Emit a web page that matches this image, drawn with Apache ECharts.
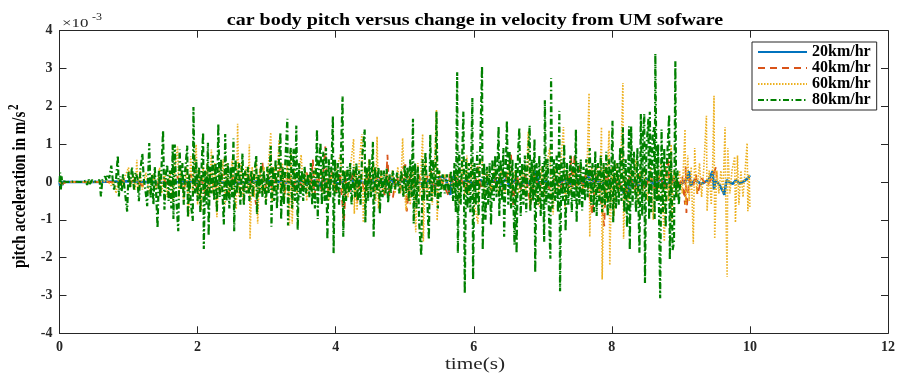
<!DOCTYPE html>
<html><head><meta charset="utf-8">
<script src="https://cdn.jsdelivr.net/npm/echarts@6/dist/echarts.min.js"></script>
<style>html,body{margin:0;padding:0;background:#fff}#c{width:898px;height:373px}</style>
</head><body><div id="c"></div>
<script>
// values are in units of 1e-3 m/s^2 ; time in s
const seriesNames = ['20km/hr','40km/hr','60km/hr','80km/hr'];
const xTicks = {min:0, max:12, step:2};
const yTicks = {min:-4, max:4, step:1};

const s20 = [[0,0],[0.01,-0.1],[0.02,0.03],[0.04,-0.08],[0.06,0],[0.5,0],[1.0,0.02],[1.5,-0.02],[2.0,0.02],[2.5,-0.03],[3.0,0.03],[3.4,-0.03],[3.5,0.05],[3.6,-0.05],[3.7,0.05],[3.78,-0.1],[3.82,0.1],[3.86,-0.05],[3.95,0.03],[4.05,-0.05],[4.15,0.05],[4.24,0.12],[4.27,-0.15],[4.32,0.05],[4.45,-0.05],[4.6,0.05],[4.75,-0.05],[4.8,0.1],[4.85,-0.05],[5.0,0.03],[5.15,0.05],[5.25,-0.05],[5.35,0.05],[5.40,-0.08],[5.45,-0.1],[5.50,0.1],[5.55,0.15],[5.60,0.05],[5.64,-0.25],[5.66,-0.34],[5.68,0.1],[5.73,0.15],[5.78,-0.05],[5.9,0.05],[6.0,-0.05],[6.1,0.05],[6.2,-0.05],[6.3,0.05],[6.4,-0.05],[6.48,0.1],[6.52,-0.15],[6.58,0.05],[6.66,-0.05],[6.70,-0.1],[6.75,0.15],[6.78,-0.1],[6.82,0.05],[6.88,0.2],[6.91,0.28],[6.94,-0.1],[7.0,0.03],[7.1,-0.05],[7.2,-0.05],[7.3,0.05],[7.4,-0.05],[7.5,0.05],[7.6,-0.05],[7.63,0.15],[7.66,0.3],[7.69,-0.1],[7.75,0.05],[7.9,-0.05],[8.0,0.05],[8.1,-0.05],[8.19,-0.34],[8.22,0.05],[8.24,-0.28],[8.28,0.05],[8.38,-0.1],[8.42,0.1],[8.46,-0.1],[8.52,0.08],[8.6,-0.05],[8.7,0.05],[8.8,-0.05],[8.9,0.05],[9.0,-0.05],[9.08,0.05],[9.12,0.28],[9.14,-0.1],[9.2,0.05],[9.3,-0.05],[9.40,0.05],[9.46,0.28],[9.48,-0.2],[9.50,0.05],[9.55,-0.05],[9.61,-0.25],[9.63,-0.34],[9.66,0.05],[9.75,-0.05],[9.80,0.05],[9.85,-0.05],[9.92,0.03],[9.97,0.1],[10.0,0.18]];

const s40 = [[0,0],[0.02,0.05],[0.04,-0.05],[0.1,0],[0.8,0],[0.9,0.05],[1.0,-0.05],[1.1,0.08],[1.2,-0.1],[1.3,0.08],[1.4,-0.1],[1.5,0.1],[1.6,-0.15],[1.7,0.15],[1.8,-0.15],[1.9,0.2],[2.0,-0.2],[2.05,0.15],[2.12,-0.4],[2.18,0.2],[2.25,-0.2],[2.32,0.15],[2.40,0.2],[2.45,-0.3],[2.52,0.2],[2.6,-0.15],[2.68,-0.2],[2.74,0.2],[2.80,-0.2],[2.85,-0.6],[2.90,0.2],[2.94,0.52],[2.97,-0.3],[3.02,0.2],[3.08,-0.2],[3.15,0.2],[3.23,0.45],[3.26,-0.3],[3.32,0.2],[3.38,-0.2],[3.45,0.2],[3.52,-0.2],[3.58,0.25],[3.64,-0.2],[3.67,0.59],[3.69,-0.38],[3.74,0.2],[3.80,-0.25],[3.85,0.94],[3.88,-0.3],[3.94,0.3],[4.00,-0.3],[4.06,0.25],[4.12,-1.07],[4.15,0.1],[4.20,-0.3],[4.25,0.3],[4.29,0.35],[4.31,-0.55],[4.36,0.2],[4.42,-0.3],[4.48,0.25],[4.55,-0.2],[4.62,0.25],[4.68,-0.2],[4.72,-0.38],[4.75,0.72],[4.78,-0.42],[4.83,-0.4],[4.88,0.2],[4.94,-0.2],[4.98,0.4],[5.01,0.46],[5.03,-0.78],[5.08,0.2],[5.14,-0.2],[5.2,0.2],[5.27,-0.2],[5.33,0.15],[5.38,0.3],[5.43,-0.2],[5.50,0.15],[5.58,-0.15],[5.64,-0.38],[5.65,0.25],[5.72,-0.1],[5.80,0.15],[5.88,-0.2],[5.95,0.2],[6.02,-0.2],[6.06,0.45],[6.10,-0.2],[6.18,0.2],[6.26,-0.2],[6.34,0.2],[6.42,-0.2],[6.48,0.15],[6.54,0.72],[6.57,-0.6],[6.62,0.2],[6.68,-0.2],[6.75,0.2],[6.82,-0.6],[6.88,0.2],[6.95,-0.2],[7.02,0.2],[7.10,-0.2],[7.18,0.15],[7.25,-0.2],[7.32,0.2],[7.38,-0.15],[7.41,0.68],[7.43,-0.2],[7.46,0.72],[7.49,-0.2],[7.53,0.5],[7.57,-0.2],[7.62,0.2],[7.66,-0.2],[7.72,-0.86],[7.76,0.2],[7.82,-0.2],[7.89,-1.17],[7.92,0.4],[7.97,-0.2],[8.04,0.2],[8.10,-0.2],[8.16,0.15],[8.20,-0.38],[8.26,0.2],[8.33,-0.2],[8.40,0.2],[8.48,-0.2],[8.56,0.2],[8.62,-0.2],[8.70,0.2],[8.76,-0.2],[8.79,0.3],[8.81,0.68],[8.84,-0.2],[8.90,0.15],[8.96,-0.2],[9.02,0.15],[9.06,-0.6],[9.07,0.4],[9.08,-0.82],[9.12,0.1],[9.18,-0.1],[9.22,0.2],[9.24,-0.34],[9.30,0.1],[9.38,-0.1],[9.45,0.1],[9.51,0.4],[9.52,0]];

const s60 = [[0,0],[0.02,0.05],[0.04,-0.05],[0.1,0],[0.5,0],[0.7,0.02],[0.75,-0.1],[0.78,0.05],[0.82,-0.3],[0.85,0.05],[0.9,-0.1],[0.95,0.15],[1.0,0.38],[1.03,-0.15],[1.07,0.2],[1.10,-0.2],[1.12,0.59],[1.14,-0.25],[1.17,0.3],[1.20,-0.2],[1.25,0.25],[1.30,-0.3],[1.35,0.2],[1.40,-0.2],[1.45,0.38],[1.48,-0.3],[1.52,0.3],[1.56,-0.4],[1.60,0.3],[1.64,-0.5],[1.68,0.5],[1.71,0.94],[1.73,-0.4],[1.76,0.3],[1.80,-0.5],[1.84,0.4],[1.87,-0.91],[1.90,0.68],[1.93,-0.3],[1.96,0.5],[1.98,0.99],[2.00,-0.6],[2.03,0.3],[2.05,-0.75],[2.08,0.4],[2.11,-0.3],[2.14,0.5],[2.17,-0.4],[2.20,0.86],[2.22,-0.3],[2.25,0.5],[2.28,-0.93],[2.31,0.4],[2.34,-0.3],[2.37,0.6],[2.40,-0.6],[2.43,0.5],[2.46,-0.4],[2.50,0.6],[2.53,-0.3],[2.56,-0.72],[2.58,1.54],[2.60,-0.4],[2.63,0.5],[2.66,-0.5],[2.70,0.4],[2.73,-0.3],[2.75,0.99],[2.76,-1.51],[2.79,0.4],[2.82,-0.4],[2.85,0.6],[2.87,-1.1],[2.90,0.35],[2.93,-0.3],[2.96,0.4],[2.99,-0.5],[3.02,0.3],[3.06,1.31],[3.08,-0.5],[3.11,0.4],[3.14,-0.3],[3.18,1.12],[3.20,-0.3],[3.23,0.5],[3.26,-0.4],[3.30,0.5],[3.33,-1.15],[3.35,0.86],[3.37,-1.1],[3.40,0.3],[3.44,-0.3],[3.48,0.4],[3.50,0.72],[3.53,-0.2],[3.56,0.3],[3.58,-0.5],[3.62,0.2],[3.66,-0.3],[3.70,0.4],[3.74,-0.2],[3.78,0.3],[3.82,-0.3],[3.86,0.2],[3.90,-0.5],[3.94,0.3],[3.98,-0.3],[4.02,0.4],[4.07,0.73],[4.10,-0.3],[4.14,0.3],[4.18,-0.4],[4.22,0.5],[4.26,1.14],[4.27,-0.84],[4.29,0.4],[4.31,-0.75],[4.34,0.5],[4.38,1.27],[4.40,-1.07],[4.43,0.4],[4.46,-0.4],[4.48,0.6],[4.51,-0.3],[4.55,0.5],[4.58,-0.5],[4.60,1.2],[4.62,-0.7],[4.66,0.3],[4.70,-0.3],[4.74,0.3],[4.78,-0.2],[4.82,0.3],[4.86,-0.3],[4.90,0.4],[4.94,-0.3],[4.97,1.16],[5.00,-0.3],[5.02,-0.75],[5.05,0.3],[5.08,-0.6],[5.12,0.4],[5.16,-1.33],[5.19,0.5],[5.22,-0.4],[5.26,1.27],[5.27,-1.57],[5.30,0.5],[5.33,-0.5],[5.37,0.4],[5.40,-0.6],[5.43,0.3],[5.46,1.91],[5.47,-1.02],[5.50,0.3],[5.54,-0.2],[5.58,0.2],[5.62,-0.2],[5.66,0.2],[5.70,-0.3],[5.75,0.3],[5.80,-0.6],[5.83,0.6],[5.87,-0.4],[5.90,0.7],[5.93,-0.3],[5.97,0.5],[6.00,-0.5],[6.06,-1.1],[6.08,0.5],[6.12,0.6],[6.15,-0.4],[6.20,0.3],[6.25,-0.3],[6.30,0.4],[6.35,-0.3],[6.40,0.3],[6.45,-0.3],[6.50,0.3],[6.55,-0.2],[6.60,0.3],[6.65,-0.3],[6.70,0.4],[6.75,-0.4],[6.79,1.33],[6.81,-0.7],[6.85,0.4],[6.90,-0.3],[6.95,-0.64],[6.98,0.4],[7.02,-0.4],[7.06,0.5],[7.10,0.9],[7.12,-0.3],[7.15,-0.86],[7.18,0.4],[7.22,-0.3],[7.26,0.5],[7.30,1.45],[7.32,-0.7],[7.36,0.3],[7.40,-0.3],[7.45,0.3],[7.50,-0.2],[7.55,0.2],[7.60,-0.3],[7.64,0.3],[7.67,2.35],[7.68,-1.45],[7.71,0.4],[7.75,-0.5],[7.79,0.4],[7.82,-0.5],[7.85,1.45],[7.86,-2.58],[7.89,0.4],[7.92,-0.5],[7.96,1.36],[7.97,-2.2],[8.00,0.4],[8.03,-0.9],[8.06,0.5],[8.10,-0.4],[8.13,0.5],[8.16,2.62],[8.17,-1.5],[8.20,0.3],[8.24,-0.6],[8.28,0.4],[8.32,-0.3],[8.35,0.6],[8.37,-0.6],[8.41,0.3],[8.45,-0.3],[8.48,0.3],[8.52,-0.5],[8.56,0.4],[8.60,-1.0],[8.63,0.4],[8.67,-0.5],[8.71,0.5],[8.76,-1.57],[8.79,0.4],[8.82,-0.5],[8.86,0.99],[8.87,-1.07],[8.90,0.3],[8.94,-0.4],[8.98,0.3],[9.02,-0.3],[9.06,1.39],[9.07,-0.6],[9.10,0.7],[9.12,-0.5],[9.15,0.4],[9.18,-1.63],[9.20,0.9],[9.23,-0.3],[9.27,0.5],[9.30,-0.4],[9.33,0.3],[9.37,1.75],[9.38,-0.77],[9.41,0.3],[9.44,-0.6],[9.46,0.4],[9.48,2.28],[9.49,-1.5],[9.52,0.3],[9.55,-0.3],[9.58,0.3],[9.61,-0.3],[9.64,1.45],[9.65,-0.5],[9.67,-2.51],[9.68,0.9],[9.71,-0.3],[9.74,0.3],[9.78,0.67],[9.79,-1.07],[9.82,0.7],[9.84,-0.6],[9.87,0.3],[9.90,-0.4],[9.93,0.3],[9.96,1.03],[9.97,-0.77],[9.99,0.2],[10.0,-0.7]];

const s80 = [[0,0],[0.01,0.25],[0.02,-0.2],[0.03,0.15],[0.04,-0.05],[0.06,0.02],[0.1,0],[0.2,0.01],[0.3,0],[0.38,0.03],[0.40,-0.08],[0.42,0.08],[0.44,-0.05],[0.47,0.05],[0.5,0],[0.55,0.03],[0.58,0.05],[0.60,-0.38],[0.62,0.05],[0.66,0.15],[0.68,0.05],[0.70,0.2],[0.72,0.1],[0.75,0.43],[0.77,0.08],[0.79,-0.2],[0.82,0.1],[0.845,0.7],[0.86,-0.38],[0.88,0.15],[0.90,-0.25],[0.92,0.2],[0.95,-0.3],[0.98,-0.78],[1.00,0.3],[1.02,-0.15],[1.05,0.4],[1.08,-0.2],[1.10,0.25],[1.13,0.1],[1.15,-0.51],[1.17,0.3],[1.20,0.75],[1.22,0.1],[1.25,-0.3],[1.27,-0.64],[1.30,1.03],[1.32,-0.42],[1.34,0.2],[1.36,-0.6],[1.38,0.4],[1.40,-0.3],[1.42,-1.22],[1.44,0.3],[1.46,-0.4],[1.48,0.5],[1.50,1.36],[1.52,-0.73],[1.54,0.2],[1.56,0.46],[1.58,-0.5],[1.60,0.3],[1.62,-0.7],[1.64,0.99],[1.65,-0.98],[1.67,0.99],[1.69,-0.4],[1.72,-1.3],[1.74,0.86],[1.76,-0.2],[1.78,0.5],[1.80,-0.6],[1.82,0.3],[1.85,0.96],[1.86,-0.94],[1.88,0.2],[1.90,-0.5],[1.93,-1.03],[1.94,1.98],[1.96,-0.3],[1.98,0.6],[2.00,-0.5],[2.02,0.4],[2.04,-0.8],[2.06,0.5],[2.08,1.31],[2.09,-1.77],[2.11,0.3],[2.13,-0.6],[2.15,1.04],[2.16,-1.42],[2.18,0.4],[2.20,-0.3],[2.22,0.7],[2.24,-0.5],[2.26,0.5],[2.28,-0.8],[2.30,1.54],[2.32,-0.4],[2.34,0.6],[2.36,-0.3],[2.38,-1.12],[2.40,1.27],[2.42,-0.5],[2.44,0.5],[2.46,-0.7],[2.48,0.4],[2.50,-0.4],[2.52,1.15],[2.53,-1.3],[2.55,0.6],[2.57,-0.3],[2.60,0.5],[2.62,-0.6],[2.65,0.75],[2.67,-0.62],[2.69,0.3],[2.71,-0.3],[2.73,0.4],[2.75,-0.5],[2.78,0.3],[2.80,-0.4],[2.82,0.2],[2.85,0.7],[2.86,-0.85],[2.88,0.2],[2.90,-0.3],[2.92,0.5],[2.94,-0.4],[2.96,0.3],[2.99,-0.6],[3.01,0.4],[3.03,-0.3],[3.06,0.95],[3.07,-1.18],[3.09,0.4],[3.11,-0.5],[3.13,0.6],[3.15,-0.7],[3.17,0.3],[3.20,1.31],[3.21,-1.0],[3.23,0.4],[3.25,-0.6],[3.27,0.5],[3.30,1.67],[3.31,-1.15],[3.33,0.5],[3.35,0.9],[3.37,-0.7],[3.39,0.88],[3.41,-0.5],[3.43,1.49],[3.45,-1.27],[3.47,0.5],[3.49,-0.4],[3.51,0.3],[3.53,-0.5],[3.55,0.4],[3.57,-0.3],[3.60,0.2],[3.62,-0.4],[3.64,0.5],[3.66,-0.6],[3.68,0.3],[3.70,-0.7],[3.73,1.39],[3.74,-0.98],[3.76,0.5],[3.78,1.04],[3.80,-0.6],[3.82,0.8],[3.84,-0.5],[3.86,0.9],[3.88,-1.52],[3.90,0.6],[3.92,-0.4],[3.94,0.5],[3.96,1.74],[3.97,-1.88],[3.99,0.6],[4.01,-0.3],[4.03,0.5],[4.05,-0.6],[4.07,0.3],[4.10,2.26],[4.11,-1.45],[4.13,0.3],[4.15,-0.5],[4.17,0.4],[4.19,-0.3],[4.21,0.5],[4.23,-0.6],[4.26,0.4],[4.28,-0.4],[4.30,0.5],[4.32,-0.5],[4.34,0.3],[4.36,-0.6],[4.38,0.6],[4.42,1.39],[4.43,-1.07],[4.45,0.4],[4.47,-0.5],[4.49,0.6],[4.51,-0.4],[4.54,1.06],[4.55,-1.45],[4.57,0.4],[4.60,-0.3],[4.62,0.4],[4.64,-0.84],[4.66,0.3],[4.68,-0.4],[4.70,0.3],[4.72,-0.3],[4.74,0.35],[4.76,-0.55],[4.78,0.2],[4.80,-0.3],[4.83,0.3],[4.86,-0.2],[4.89,0.25],[4.92,-0.3],[4.95,0.3],[4.98,-0.4],[5.00,0.45],[5.02,-0.3],[5.04,0.4],[5.06,-0.5],[5.08,0.6],[5.10,-0.4],[5.12,1.67],[5.13,-1.1],[5.15,0.5],[5.17,-0.7],[5.19,0.4],[5.21,-1.1],[5.24,-1.95],[5.26,0.6],[5.28,-0.5],[5.30,0.8],[5.33,-0.6],[5.35,-1.52],[5.37,1.25],[5.39,-0.5],[5.41,0.6],[5.44,-0.4],[5.46,1.86],[5.48,-0.7],[5.50,0.3],[5.52,-0.4],[5.55,0.2],[5.58,-0.3],[5.61,0.2],[5.64,-0.3],[5.67,0.3],[5.70,-0.5],[5.72,0.5],[5.74,-0.8],[5.76,2.9],[5.77,-1.88],[5.79,0.8],[5.81,-0.6],[5.83,0.5],[5.85,1.86],[5.87,-2.94],[5.89,0.6],[5.91,-0.7],[5.93,0.5],[5.95,-0.8],[5.98,2.22],[5.99,-2.58],[6.01,0.5],[6.03,-0.6],[6.05,0.8],[6.07,-0.9],[6.09,0.6],[6.12,3.06],[6.13,-1.8],[6.15,0.5],[6.17,-1.0],[6.19,0.4],[6.21,-0.6],[6.23,0.5],[6.25,-1.14],[6.27,0.6],[6.29,-0.5],[6.31,0.7],[6.33,-0.4],[6.36,1.47],[6.37,-0.9],[6.39,0.6],[6.41,-0.5],[6.43,0.9],[6.44,-1.45],[6.48,1.62],[6.50,-0.6],[6.52,0.8],[6.54,-0.7],[6.56,0.6],[6.59,-1.66],[6.61,0.5],[6.62,-1.89],[6.64,0.7],[6.66,1.43],[6.68,-0.9],[6.70,0.5],[6.72,-0.6],[6.74,0.7],[6.76,-0.8],[6.78,0.5],[6.81,1.49],[6.82,-0.77],[6.84,0.6],[6.86,-0.5],[6.88,1.14],[6.89,-2.39],[6.91,0.5],[6.93,-0.6],[6.95,0.7],[6.97,-0.9],[7.00,0.5],[7.02,-1.58],[7.03,2.16],[7.05,-0.6],[7.07,0.6],[7.09,-0.9],[7.11,-2.03],[7.12,2.75],[7.14,-0.7],[7.16,0.6],[7.18,-0.5],[7.20,0.7],[7.22,-0.8],[7.24,1.88],[7.25,-2.89],[7.27,0.6],[7.29,-0.5],[7.31,1.0],[7.33,-1.3],[7.35,0.5],[7.37,-0.6],[7.40,0.7],[7.42,-0.8],[7.44,0.5],[7.46,-0.5],[7.48,1.39],[7.49,-1.07],[7.51,0.5],[7.53,-0.6],[7.55,0.6],[7.57,-0.75],[7.59,0.4],[7.61,-0.5],[7.63,0.6],[7.65,-0.4],[7.68,0.9],[7.70,-0.6],[7.72,0.5],[7.74,-0.8],[7.76,0.82],[7.78,-0.9],[7.80,0.5],[7.82,-0.6],[7.84,0.7],[7.86,-0.8],[7.88,0.5],[7.90,-0.6],[7.92,0.8],[7.94,-0.9],[7.96,0.6],[7.98,-0.7],[8.01,1.62],[8.02,-1.07],[8.04,0.6],[8.06,-0.7],[8.08,0.5],[8.10,-0.6],[8.12,0.9],[8.14,-0.5],[8.16,1.45],[8.18,-0.8],[8.20,0.6],[8.22,-1.2],[8.25,1.47],[8.26,-1.8],[8.28,1.47],[8.30,-0.6],[8.32,0.8],[8.35,-0.8],[8.37,0.9],[8.40,-1.87],[8.42,1.8],[8.44,-0.9],[8.45,1.2],[8.47,1.8],[8.48,-2.67],[8.50,0.9],[8.53,1.67],[8.54,-1.0],[8.55,1.86],[8.57,-0.8],[8.59,1.2],[8.61,1.45],[8.62,-0.98],[8.63,3.39],[8.65,-0.5],[8.67,1.0],[8.70,-3.07],[8.72,1.39],[8.74,-0.8],[8.76,0.9],[8.78,-1.2],[8.80,0.6],[8.83,1.78],[8.84,-2.05],[8.86,0.8],[8.88,-1.8],[8.90,-1.6],[8.92,3.19],[8.93,-0.4],[8.95,0.3],[8.97,-0.6],[8.99,0]];

const AX = '#262626';
const FF = '"Liberation Serif", "Times New Roman", serif';

function xAx(pos, showLabel) {
  return {
    type: 'value', position: pos, min: xTicks.min, max: xTicks.max, interval: xTicks.step,
    axisLine: {show: true, onZero: false, lineStyle: {color: AX, width: 1}},
    axisTick: {show: true, inside: true, length: 7, lineStyle: {color: AX}},
    axisLabel: {show: showLabel, color: AX, fontFamily: FF, fontWeight: 'bold', fontSize: 14, margin: 7},
    splitLine: {show: false}
  };
}
function yAx(pos, showLabel) {
  return {
    type: 'value', position: pos, min: yTicks.min, max: yTicks.max, interval: yTicks.step,
    axisLine: {show: true, onZero: false, lineStyle: {color: AX, width: 1}},
    axisTick: {show: true, inside: true, length: 7, lineStyle: {color: AX}},
    axisLabel: {show: showLabel, color: AX, fontFamily: FF, fontWeight: 'bold', fontSize: 14, margin: 7},
    splitLine: {show: false}
  };
}

const styles = [
  {color: '#0072BD', width: 2.6, type: 'solid'},
  {color: '#D95319', width: 1.8, type: [7, 5]},
  {color: '#EDB120', width: 1.6, type: [1.5, 1.5]},
  {color: '#008000', width: 2.2, type: [6, 2.5, 1.5, 2.5]}
];
const dataList = [s20, s40, s60, s80];

const chart = echarts.init(document.getElementById('c'), null, {renderer: 'canvas'});
chart.setOption({
  animation: false,
  backgroundColor: '#fff',
  grid: {left: 59.5, right: 7.5, top: 30.7, bottom: 39.7},
  xAxis: [xAx('bottom', true), xAx('top', false)],
  yAxis: [yAx('left', true), yAx('right', false)],
  legend: {
    orient: 'vertical', left: 752, top: 42,
    itemWidth: 49, itemHeight: 14, itemGap: 0,
    padding: [2, 6, 2, 5],
    borderColor: AX, borderWidth: 1, backgroundColor: '#fff',
    itemStyle: {opacity: 0},
    textStyle: {fontFamily: FF, fontWeight: 'bold', fontSize: 16, color: '#000'},
    data: seriesNames
  },
  series: dataList.map((d, i) => ({
    name: seriesNames[i], type: 'line', xAxisIndex: 0, yAxisIndex: 0,
    data: d, symbol: 'none', showSymbol: false, sampling: null,
    lineStyle: {color: styles[i].color, width: styles[i].width, type: styles[i].type},
    itemStyle: {color: styles[i].color}
  })),
  graphic: [
    {type: 'text', x: 475, y: 21, scaleX: 1.25, style: {text: 'car body pitch versus change in velocity from UM sofware', font: 'bold 16px ' + FF, fill: '#000', textAlign: 'center', textVerticalAlign: 'middle', verticalAlign: 'middle'}},
    {type: 'text', x: 62, y: 23.5, scaleX: 1.3, style: {text: '×10', font: '13px ' + FF, fill: AX, textAlign: 'left', textVerticalAlign: 'middle', verticalAlign: 'middle'}},
    {type: 'text', x: 92, y: 17.5, scaleX: 1.2, style: {text: '-3', font: '10px ' + FF, fill: AX, textAlign: 'left', textVerticalAlign: 'middle', verticalAlign: 'middle'}},
    {type: 'text', x: 20, y: 268, rotation: Math.PI / 2, scaleY: 1.3, style: {text: 'pitch acceleration in m/s', font: 'bold 15px ' + FF, fill: '#000', textAlign: 'left', textVerticalAlign: 'middle', verticalAlign: 'middle'}},
    {type: 'text', x: 14, y: 110, rotation: Math.PI / 2, scaleY: 1.3, style: {text: '2', font: 'bold 11px ' + FF, fill: '#000', textAlign: 'left', textVerticalAlign: 'middle', verticalAlign: 'middle'}},
    {type: 'text', x: 475, y: 365, scaleX: 1.25, style: {text: 'time(s)', font: '17px ' + FF, fill: AX, textAlign: 'center', textVerticalAlign: 'middle', verticalAlign: 'middle'}}
  ]
});
</script>
</body></html>
